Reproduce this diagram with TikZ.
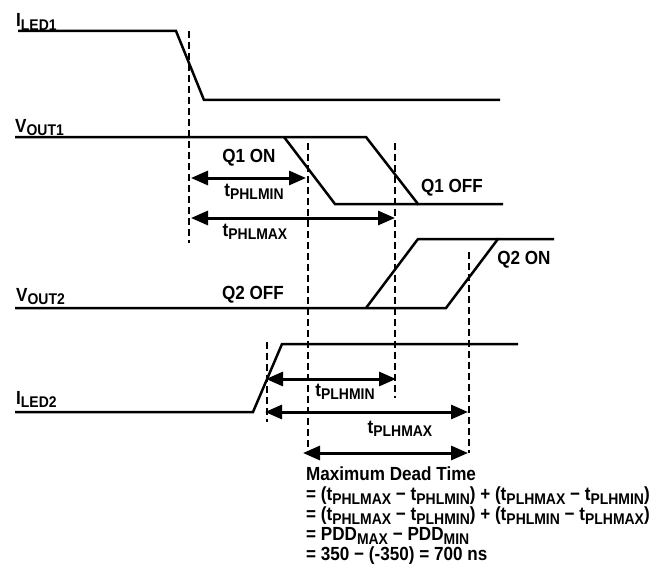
\documentclass[tikz,border=0pt]{standalone}
\usepackage{fontspec}
\setmainfont{Liberation Sans}[FakeStretch=0.9]
\usetikzlibrary{arrows.meta}
\newcommand{\mysub}[1]{\raisebox{-0.16em}{\fontsize{15.5}{15.5}\selectfont #1}}
\begin{document}
\begin{tikzpicture}[x=1pt,y=-1pt,
  wave/.style={line width=2.5pt,line join=miter},
  guide/.style={line width=2.3pt,dash pattern=on 7pt off 4pt},
  dim/.style={line width=3pt,{Triangle[length=17pt,width=14pt]}-{Triangle[length=17pt,width=14pt]}},
  lbl/.style={font=\bfseries\fontsize{19}{20}\selectfont,inner sep=0pt}]
\useasboundingbox[fill=white] (0,0) rectangle (670,586);

% waveforms
\draw[wave] (18,31) -- (176,31) -- (204,100) -- (500,100);
\draw[wave] (15,137) -- (366,137) -- (418,204) -- (503,204);
\draw[wave] (284,137) -- (335,204) -- (418,204);
\draw[wave] (15,308) -- (446,308) -- (498,239) -- (554,239);
\draw[wave] (366,308) -- (418,239) -- (498,239);
\draw[wave] (15,412) -- (253,412) -- (282,344) -- (518,344);

% guide coordinates
\coordinate (d1t) at (189,31);  \coordinate (d1b) at (189,243);
\coordinate (d2t) at (308,143); \coordinate (d2b) at (308,455);
\coordinate (d3t) at (395,143); \coordinate (d3b) at (395,398);
\coordinate (d4t) at (267,342); \coordinate (d4b) at (267,422);
\coordinate (d5t) at (469,252); \coordinate (d5b) at (469,453);
\draw[guide] (d1t) -- (d1b);
\draw[guide] (d2t) -- (d2b);
\draw[guide] (d3t) -- (d3b);
\draw[guide] (d4t) -- (d4b);
\draw[guide] (d5t) -- (d5b);

% dimension arrows
\coordinate (a1l) at (191,178); \coordinate (a1r) at (306,178);
\coordinate (a2l) at (191,218); \coordinate (a2r) at (395,218);
\coordinate (a3l) at (266,379); \coordinate (a3r) at (396,379);
\coordinate (a4l) at (265,412); \coordinate (a4r) at (468,412);
\coordinate (a5l) at (303,453); \coordinate (a5r) at (468,453);
\draw[dim] (a1l) -- (a1r);
\draw[dim] (a2l) -- (a2r);
\draw[dim] (a3l) -- (a3r);
\draw[dim] (a4l) -- (a4r);
\draw[dim] (a5l) -- (a5r);

% signal labels
\node[lbl,anchor=base west] (lI1) at (16,27) {I\mysub{LED1}};
\node[lbl,anchor=base west] (lV1) at (15,132) {V\mysub{OUT1}};
\node[lbl,anchor=base west] (lV2) at (16,301) {V\mysub{OUT2}};
\node[lbl,anchor=base west] (lI2) at (16,404) {I\mysub{LED2}};

% state and timing labels
\node[lbl] (q1on) at (249,158) {Q1 ON};
\node[lbl] (q1off) at (452,188) {Q1 OFF};
\node[lbl] (q2on) at (524,260) {Q2 ON};
\node[lbl] (q2off) at (253,295) {Q2 OFF};
\node[lbl] (tphlmin) at (254,192) {t\mysub{PHLMIN}};
\node[lbl] (tphlmax) at (255,232) {t\mysub{PHLMAX}};
\node[lbl] (tplhmin) at (345,392) {t\mysub{PLHMIN}};
\node[lbl] (tplhmax) at (400,429) {t\mysub{PLHMAX}};

% formula
\node[lbl,anchor=north west,align=left,font=\bfseries\fontsize{19}{20}\selectfont] (formula) at (306,467)
{Maximum Dead Time\\
= (t\mysub{PHLMAX} − t\mysub{PHLMIN}) + (t\mysub{PLHMAX} − t\mysub{PLHMIN})\\
= (t\mysub{PHLMAX} − t\mysub{PLHMIN}) + (t\mysub{PHLMIN} − t\mysub{PLHMAX})\\
= PDD\mysub{MAX} − PDD\mysub{MIN}\\
= 350 − (-350) = 700 ns};
\end{tikzpicture}
\end{document}
